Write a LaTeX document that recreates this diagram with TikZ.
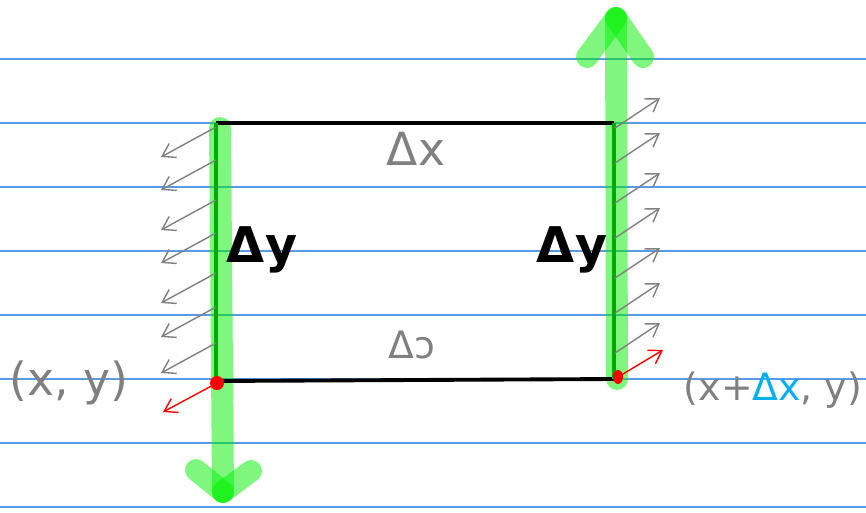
\documentclass[tikz,border=0pt]{standalone}
\usepackage{fontspec}
\setmainfont{DejaVu Sans}
\usetikzlibrary{arrows.meta}
\definecolor{ruleblue}{RGB}{91,155,230}
\definecolor{bandgreen}{RGB}{0,240,0}
\definecolor{edgegreen}{RGB}{0,170,0}
\definecolor{inkgray}{RGB}{128,128,128}
\definecolor{inkcyan}{RGB}{0,176,240}
\begin{document}
\begin{tikzpicture}[
    x=0.02cm, y=-0.02cm,
    every node/.style={font=\fontsize{21.5}{23}\selectfont, inner sep=0pt},
    big/.style={font=\fontsize{26}{28}\selectfont},
    heavy/.style={font=\fontsize{28}{30}\selectfont\bfseries},
    ruled/.style={draw=ruleblue, line width=0.6pt},
    band/.style={draw=bandgreen, opacity=0.5, line width=12.5pt, line cap=round},
    edge/.style={draw=black, line width=2.2pt},
    wall/.style={draw=edgegreen, line width=2pt},
    flux/.style={draw=inkgray, line width=0.8pt, -{Straight Barb[length=7pt, width=9pt]}},
    corner/.style={draw=red, line width=0.8pt, -{Straight Barb[length=7pt, width=9pt]}},
    dot/.style={fill=red}
]
\useasboundingbox (0,0) rectangle (866,512);
% ruled paper
\foreach \k in {0,...,7}
  \draw[ruled] (0,59+64*\k) -- (866,59+64*\k);
% corners of the cell
\coordinate (tl) at (216,123);
\coordinate (tr) at (614,123);
\coordinate (bl) at (216,381);
\coordinate (br) at (614,379);
\coordinate (dotl) at (217,383);
\coordinate (dotr) at (618,377);
\coordinate (downtop) at (220,128);
\coordinate (downtip) at (223,492);
\coordinate (uptip) at (616,18);
% green flow bands
\draw[band] (downtop) -- (downtip);
\draw[band] (196,470) -- (downtip);
\draw[band] (251,471) -- (downtip);
\draw[band] (617,379) -- (uptip);
\draw[band] (587,57) -- (uptip);
\draw[band] (643,57) -- (uptip);
% cell edges
\draw[edge] (tl) -- (tr);
\draw[edge] (bl) -- (br);
\draw[wall] (tl) -- (bl);
\draw[wall] (tr) -- (br);
% flux arrows
\foreach \y in {127,160,200,233,273,307,343}
  \draw[flux] (216,\y) -- ++(-55,30);
\foreach \y in {128,163,203,238,278,313,353}
  \draw[flux] (615,\y) -- ++(45,-30);
% red corner points
\fill[dot] (dotl) circle (7);
\fill[dot] (dotr) ellipse (5 and 7);
\draw[corner] (dotl) -- ++(-54,29);
\draw[corner] (dotr) -- ++(45,-27);
% labels
\node[big, text=inkgray] (lbldxtop) at (416,149) {Δx};
\node[text=inkgray] (lbldxbot) at (412,345) {Δɔ};
\node[heavy] (lbldyl) at (262,250) {Δy};
\node[heavy] (lbldyr) at (572,250) {Δy};
\node[big, text=inkgray] (lblxy) at (69,383) {(x, y)};
\node[text=inkgray] (lblxdx) at (773,390) {(x+\textcolor{inkcyan}{Δx}, y)};
\end{tikzpicture}
\end{document}
